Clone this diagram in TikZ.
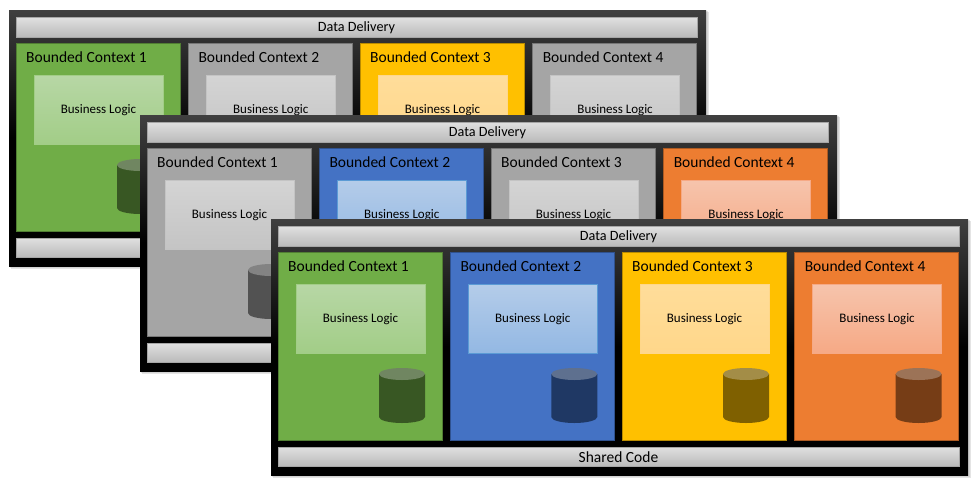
\documentclass[tikz,border=0pt]{standalone}
\usepackage{fontspec}
\setmainfont{Carlito}
\definecolor{cgreen}{HTML}{70AD47}
\definecolor{cblue}{HTML}{4472C4}
\definecolor{cyellow}{HTML}{FFC000}
\definecolor{corange}{HTML}{ED7D31}
\definecolor{cgray}{HTML}{A5A5A5}
\definecolor{dgreen}{HTML}{385723}
\definecolor{dblue}{HTML}{1F3864}
\definecolor{dyellow}{HTML}{7F6000}
\definecolor{dorange}{HTML}{763D16}
\definecolor{dgray}{HTML}{525252}
\definecolor{tgreen}{HTML}{B7D7A5}
\definecolor{bgreen}{HTML}{A2CD87}
\definecolor{tblue}{HTML}{B4CCE9}
\definecolor{bblue}{HTML}{93B8E3}
\definecolor{tyellow}{HTML}{FFDD9A}
\definecolor{byellow}{HTML}{FFD78A}
\definecolor{torange}{HTML}{F6C4AC}
\definecolor{borange}{HTML}{F6A985}
\definecolor{tgray}{HTML}{D4D4D4}
\definecolor{bgray}{HTML}{C4C4C4}
\definecolor{lgreen}{HTML}{A2CD87}
\definecolor{lblue}{HTML}{5B9BD5}
\definecolor{lyellow}{HTML}{FFD78A}
\definecolor{lorange}{HTML}{F6A985}
\definecolor{lgray}{HTML}{C4C4C4}
\pgfdeclareverticalshading{framesh}{100bp}{color(0bp)=(black);color(50bp)=(black);color(75bp)=(black!75!white);color(100bp)=(black!75!white)}
\tikzset{
 x=1pt,y=-1pt,
 box/.style={rectangle,inner sep=0pt,outer sep=0pt,anchor=north west},
 framebox/.style={box,minimum width=697pt,minimum height=256pt,shading=framesh},
 barbox/.style={box,draw=black!35,line width=0.7pt,top color=black!12,bottom color=black!27,text=black},
 ctxbox/.style={box,minimum width=164pt,minimum height=188pt,line width=0.8pt},
 ctxlabel/.style={inner sep=0pt,anchor=west,font=\fontsize{15.5}{17}\selectfont},
 logicbox/.style={box,minimum width=129pt,minimum height=69pt,line width=0.7pt,font=\fontsize{13}{15}\selectfont},
}
\newcommand{\ctxcell}[3]{% panel-id, index, colour suffix
  \node[ctxbox,fill=c#3,draw=d#3!55!c#3] (c#1#2) at ({7+\cellx},33) {};
  \node[ctxlabel] (t#1#2) at ({17+\cellx},47) {Bounded Context #2};
  \node[logicbox,draw=l#3,top color=t#3,bottom color=b#3] (l#1#2) at ({25+\cellx},65.5) {Business Logic};
  \fill[d#3] ({108+\cellx},155) -- ({108+\cellx},198) arc[start angle=180,end angle=360,x radius=23pt,y radius=6pt] -- ({154+\cellx},155) -- cycle;
  \fill[d#3!72!white] ({131+\cellx},155) ellipse[x radius=23pt,y radius=6pt];
}
\newcommand{\panelblock}[7]{% id, dx, dy, four fill colours
 \begin{scope}[shift={(#2,#3)}]
  \fill[black!30,opacity=.35] (2,2) rectangle (700,259);
  \fill[black!30,opacity=.35] (1,1) rectangle (699,258);
  \node[framebox] (f#1) at (0,0) {};
  \node[barbox,minimum width=681pt,minimum height=20pt,font=\fontsize{14.2}{16}\selectfont] (d#1) at (7,7) {\raisebox{-1pt}[\height][\depth]{Data Delivery}};
  \def\cellx{0}\ctxcell{#1}{1}{#4}
  \def\cellx{172.3}\ctxcell{#1}{2}{#5}
  \def\cellx{344}\ctxcell{#1}{3}{#6}
  \def\cellx{516.6}\ctxcell{#1}{4}{#7}
  \node[barbox,minimum width=681pt,minimum height=19pt,font=\fontsize{15.5}{17}\selectfont] (s#1) at (7,228) {\raisebox{-1pt}[\height][\depth]{Shared Code}};
 \end{scope}
}
\begin{document}
\begin{tikzpicture}
\useasboundingbox (0,0) rectangle (979,488);
\panelblock{a}{9}{10}{green}{gray}{yellow}{gray}
\panelblock{b}{140}{115}{gray}{blue}{gray}{orange}
\panelblock{c}{271}{219}{green}{blue}{yellow}{orange}
\end{tikzpicture}
\end{document}
